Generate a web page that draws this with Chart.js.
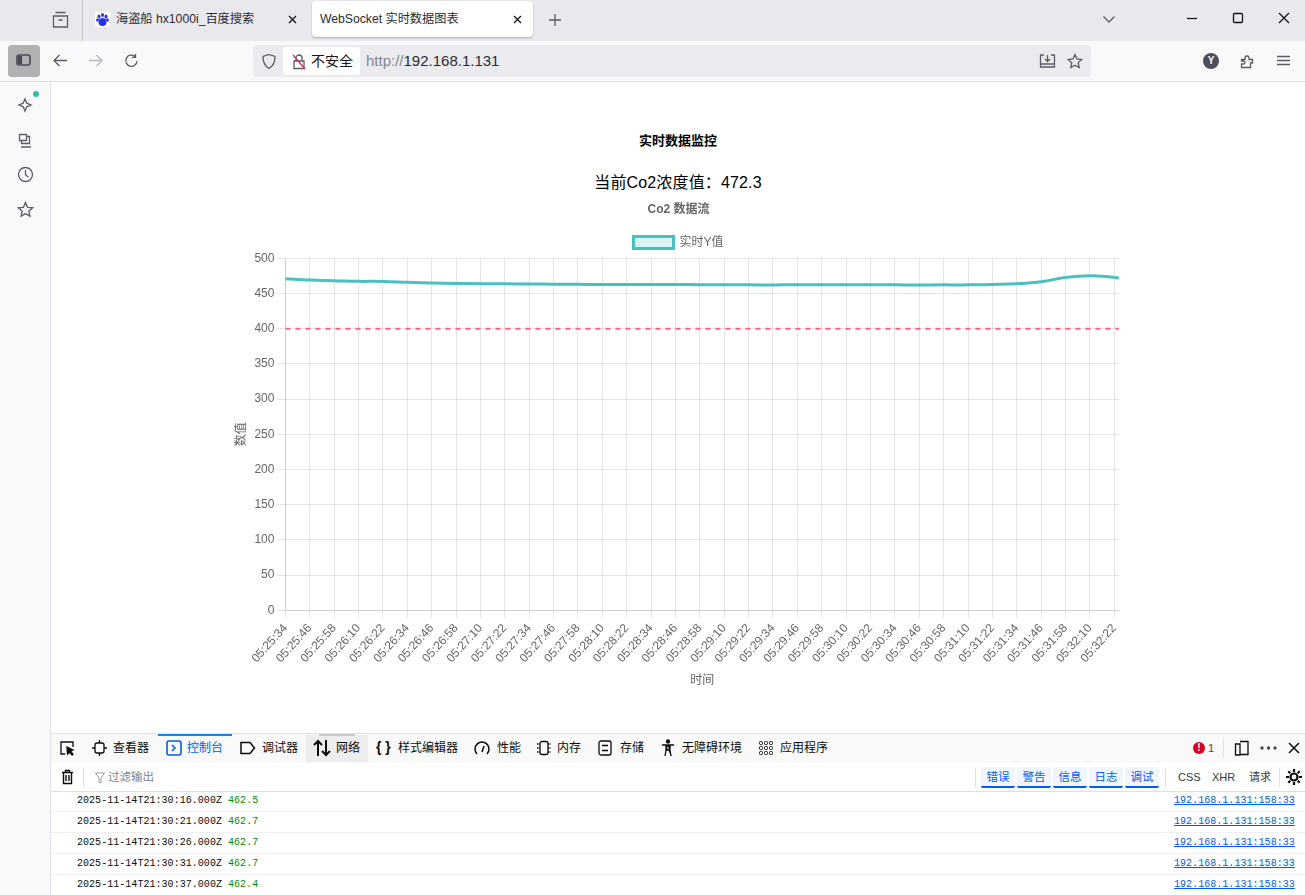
<!DOCTYPE html>
<html lang="zh"><head><meta charset="utf-8"><title>WebSocket 实时数据图表</title>
<script src="https://cdn.jsdelivr.net/npm/chart.js@4/dist/chart.umd.min.js"></script>
<style>
html,body{margin:0;padding:0;width:1305px;height:895px;overflow:hidden;background:#fff;font-family:"Liberation Sans","Noto Sans CJK SC",sans-serif;color:#15141a}
.a{position:absolute;white-space:nowrap}
svg.a{fill:none;stroke:#5b5b66;stroke-width:1.3}
.ui{font-size:12px;line-height:16px;color:#2b2a33}
.mono{font-family:"Liberation Mono",monospace;font-size:10px;line-height:14px;letter-spacing:.04px}
.row{position:absolute;left:51px;right:0;height:20px;border-bottom:1px solid #f0f0f4}
.flt{position:absolute;top:767px;height:19px;width:34px;background:#f0f6fe;border-bottom:2px solid #0060df;border-radius:2px;color:#0060df;font-size:11.5px;line-height:20px;text-align:center}
</style></head><body>
<!-- tab strip -->
<div class="a" style="left:0;top:0;width:1305px;height:41px;background:#e9e9ed"></div>
<svg class="a" style="left:52px;top:11px" width="17" height="17" viewBox="0 0 17 17"><path d="M3.500 1.500h10M1.500 5h14v11h-14zM6.500 9h4"/></svg>
<div class="a" style="left:82px;top:0;width:1px;height:41px;background:#c8c8ce"></div>
<svg class="a" style="left:95px;top:12px;stroke:none" width="15" height="15"><rect width="15" height="15" fill="#fff"/><g fill="#2932e1"><ellipse cx="4" cy="4.500" rx="1.500" ry="2"/><ellipse cx="7.500" cy="3" rx="1.500" ry="2"/><ellipse cx="11" cy="4.500" rx="1.500" ry="2"/><ellipse cx="2.500" cy="8" rx="1.400" ry="1.800"/><ellipse cx="12.500" cy="8" rx="1.400" ry="1.800"/><ellipse cx="7.500" cy="10" rx="4" ry="4"/></g></svg>
<div class="a ui" style="left:116px;top:11px;font-size:12.2px">海盗船 hx1000i_百度搜索</div>
<svg class="a" style="left:288px;top:15px;stroke:#15141a" width="9" height="9"><path d="M1 1l7 7M8 1l-7 7"/></svg>
<div class="a" style="left:312px;top:1px;width:221px;height:36px;background:#fff;border-radius:4px;box-shadow:0 1px 2px rgba(0,0,0,.25)"></div>
<div class="a ui" style="left:320px;top:11px;font-size:12.2px">WebSocket 实时数据图表</div>
<svg class="a" style="left:513px;top:15px;stroke:#15141a" width="9" height="9"><path d="M1 1l7 7M8 1l-7 7"/></svg>
<svg class="a" style="left:548px;top:13px" width="14" height="14"><path d="M7 1v12M1 7h12"/></svg>
<svg class="a" style="left:1102px;top:15px" width="14" height="9"><path d="M1.500 1.500l5.500 5.500 5.500-5.500"/></svg>
<svg class="a" style="left:1186px;top:17px;stroke:#15141a" width="12" height="3"><path d="M1 1.500h10"/></svg>
<svg class="a" style="left:1232px;top:12px;stroke:#15141a" width="12" height="12"><rect x="1.500" y="1.500" width="9" height="9" rx="1"/></svg>
<svg class="a" style="left:1278px;top:12px;stroke:#15141a" width="12" height="12"><path d="M1 1l10 10M11 1l-10 10"/></svg>
<!-- toolbar -->
<div class="a" style="left:0;top:41px;width:1305px;height:40px;background:#f9f9fb"></div>
<div class="a" style="left:8px;top:45px;width:32px;height:32px;background:#b1b1b3;border-radius:4px"></div>
<svg class="a" style="left:16px;top:54px;stroke:#4a4a55;stroke-width:1.600" width="16" height="13"><rect x="1" y="1" width="13" height="10" rx="2"/><rect x="2" y="2" width="4" height="8" fill="#4a4a55" stroke="none"/></svg>
<svg class="a" style="left:52px;top:53px" width="16" height="15"><path d="M15 7.500H2M7.500 2L2 7.500 7.500 13"/></svg>
<svg class="a" style="left:88px;top:53px;stroke:#b9b9bf" width="16" height="15"><path d="M1 7.500h13M8.500 2L14 7.500 8.500 13"/></svg>
<svg class="a" style="left:124px;top:53px" width="16" height="15"><path d="M13 8a5.600 5.600 0 1 1-2-4.600M11.500 1v3.400H8"/></svg>
<div class="a" style="left:253px;top:45px;width:838px;height:32px;background:#ebebef;border-radius:4px"></div>
<svg class="a" style="left:261px;top:53px" width="16" height="17"><path d="M8 1.500l6 2c0 6-1.500 9.500-6 12-4.500-2.500-6-6-6-12z"/></svg>
<div class="a" style="left:283px;top:47px;width:77px;height:28px;background:#fff;border-radius:3px"></div>
<svg class="a" style="left:291px;top:53px" width="16" height="17"><path d="M3 8h10v7.500H3zM5 8V5a3 3 0 0 1 6 0v3"/><path d="M2 2l12 14" stroke="#e22850"/></svg>
<div class="a ui" style="left:311px;top:52px;font-size:14px;line-height:18px;color:#15141a">不安全</div>
<div class="a" style="left:366px;top:52px;font-size:15px;line-height:18px;color:#85858d">http://<span style="color:#2b2a33">192.168.1.131</span></div>
<svg class="a" style="left:1039px;top:53px" width="17" height="16"><path d="M5 2H1.500v12h14V2H12M1.500 11h14M8.500 2v6M6 6l2.500 2.500L11 6"/></svg>
<svg class="a" style="left:1067px;top:53px" width="16" height="16"><path d="M8 1.500l2 4.500 4.800.5-3.600 3.200 1 4.800L8 12.200 3.800 14.500l1-4.800L1.200 6.500 6 6z"/></svg>
<div class="a" style="left:1203px;top:53px;width:16px;height:16px;background:#4f4f5a;border-radius:50%;color:#fff;font-size:10px;font-weight:bold;line-height:16px;text-align:center">Y</div>
<svg class="a" style="left:1240px;top:53px" width="15" height="16"><path d="M1.500 6.500h3.500v-1.500a2 2 0 0 1 4 0v1.500h3.500v3.500h-2v4.500h-9v-3.500h2a1.500 1.500 0 0 0 0-3h-2z"/></svg>
<svg class="a" style="left:1277px;top:55px" width="13" height="12"><path d="M0 1.500h13M0 5.500h13M0 9.500h13"/></svg>
<div class="a" style="left:0;top:81px;width:1305px;height:1px;background:#e0e0e6"></div>
<!-- sidebar -->
<div class="a" style="left:0;top:82px;width:50px;height:813px;background:#f9f9fb"></div>
<div class="a" style="left:50px;top:82px;width:1px;height:813px;background:#e0e0e6"></div>
<svg class="a" style="left:16px;top:95px" width="18" height="18"><path d="M9 4l1.800 4.200L15 10l-4.200 1.800L9 16l-1.800-4.200L3 10l4.200-1.800z"/></svg>
<div class="a" style="left:33px;top:91px;width:6px;height:6px;background:#2ac3a2;border-radius:50%"></div>
<svg class="a" style="left:18px;top:133px" width="16" height="16"><path d="M1.500 1.500h7v6h-7zM3.500 7.500v3h8V3.500h-3M3 14h10"/></svg>
<svg class="a" style="left:17px;top:166px" width="17" height="17"><circle cx="8.500" cy="8.500" r="7"/><path d="M8.500 4v5l3 2"/></svg>
<svg class="a" style="left:17px;top:201px" width="17" height="17"><path d="M8.500 1.500l2.100 4.800 5 .5-3.800 3.400 1.100 5-4.400-2.600-4.400 2.600 1.100-5L1.400 6.800l5-.5z"/></svg>
<!-- page -->
<div class="a" style="left:51px;width:1254px;top:132px;text-align:center;font-size:13px;line-height:17px;font-weight:bold;color:#000">实时数据监控</div>
<div class="a" style="left:51px;width:1254px;top:173px;text-align:center;font-size:16px;line-height:20px;color:#000;letter-spacing:.15px">当前Co2浓度值：472.3</div>
<div class="a" style="left:229px;top:192px;width:899px;height:500px"><canvas id="chart"></canvas></div>
<!-- devtools -->
<div class="a" style="left:51px;top:733px;width:1254px;height:29px;background:#f9f9fa;border-top:1px solid #e0e0e2;border-bottom:1px solid #e0e0e2"></div>
<svg class="a" style="left:59px;top:740px;stroke:#0c0c0d" width="17" height="17"><path d="M6 14H2V2h12v5"/><path d="M8 7l6 3-2.500 1L14 14.500 13 15l-2.500-3-2 2z" fill="#0c0c0d"/></svg>
<svg class="a" style="left:92px;top:740px;stroke:#0c0c0d" width="15" height="16"><rect x="3" y="3" width="9" height="10" rx="2"/><path d="M7.500 0v3M7.500 13v3M0 8h3M12 8h3"/></svg>
<div class="a ui" style="left:113px;top:740px;color:#0c0c0d">查看器</div>
<div class="a" style="left:158px;top:734px;width:74px;height:2px;background:#0a84ff"></div>
<svg class="a" style="left:166px;top:740px;stroke:#0060df;stroke-width:1.600" width="16" height="16"><rect x="1" y="1" width="14" height="14" rx="2"/><path d="M6 5l3 3-3 3"/></svg>
<div class="a ui" style="left:187px;top:740px;color:#0060df">控制台</div>
<svg class="a" style="left:240px;top:741px;stroke:#0c0c0d;stroke-width:1.500" width="16" height="14"><path d="M1 1.500h9l4.500 5.500-4.500 5.500H1z"/></svg>
<div class="a ui" style="left:262px;top:740px;color:#0c0c0d">调试器</div>
<div class="a" style="left:306px;top:735px;width:62px;height:27px;background:#ededf0"></div>
<div class="a" style="left:319px;top:734px;width:36px;height:2px;background:#c8c8cc"></div>
<svg class="a" style="left:313px;top:739px;stroke:#0c0c0d;stroke-width:2" width="18" height="18"><path d="M5 17V2M1 6l4-4 4 4M13 1v15M9 12l4 4 4-4"/></svg>
<div class="a ui" style="left:336px;top:740px;color:#0c0c0d">网络</div>
<div class="a ui" style="left:376px;top:739px;font-size:14px;font-weight:bold;color:#0c0c0d">{ }</div>
<div class="a ui" style="left:398px;top:740px;color:#0c0c0d">样式编辑器</div>
<svg class="a" style="left:474px;top:740px;stroke:#0c0c0d;stroke-width:1.500" width="16" height="15"><path d="M3 14A7 7 0 1 1 13 14M8 12l2-6"/></svg>
<div class="a ui" style="left:497px;top:740px;color:#0c0c0d">性能</div>
<svg class="a" style="left:536px;top:740px;stroke:#0c0c0d" width="16" height="16"><rect x="4" y="1.500" width="8" height="13" rx="2"/><path d="M1 4h3M1 8h3M1 12h3M12 4h3M12 8h3M12 12h3" stroke-dasharray="1.500 1"/></svg>
<div class="a ui" style="left:557px;top:740px;color:#0c0c0d">内存</div>
<svg class="a" style="left:598px;top:740px;stroke:#0c0c0d" width="14" height="16"><rect x="1" y="1" width="12" height="14" rx="2"/><path d="M4 5.500h6M4 10.500h6"/></svg>
<div class="a ui" style="left:620px;top:740px;color:#0c0c0d">存储</div>
<svg class="a" style="left:661px;top:739px;stroke:#0c0c0d;fill:#0c0c0d" width="14" height="18"><circle cx="7" cy="2.500" r="1.500"/><path d="M1 6h12M5 6h4v5l1 6M5 11l-1 6M5 6v5h4"/></svg>
<div class="a ui" style="left:682px;top:740px;color:#0c0c0d">无障碍环境</div>
<svg class="a" style="left:759px;top:741px;stroke:#0c0c0d;stroke-width:1" width="15" height="15"><g><rect x=".500" y=".500" width="3" height="3" rx="1"/><rect x="5.500" y=".500" width="3" height="3" rx="1"/><rect x="10.500" y=".500" width="3" height="3" rx="1"/><rect x=".500" y="5.500" width="3" height="3" rx="1"/><rect x="5.500" y="5.500" width="3" height="3" rx="1"/><rect x="10.500" y="5.500" width="3" height="3" rx="1"/><rect x=".500" y="10.500" width="3" height="3" rx="1"/><rect x="5.500" y="10.500" width="3" height="3" rx="1"/><rect x="10.500" y="10.500" width="3" height="3" rx="1"/></g></svg>
<div class="a ui" style="left:780px;top:740px;color:#0c0c0d">应用程序</div>
<div class="a" style="left:1193px;top:742px;width:12px;height:12px;background:#d70022;border-radius:50%;color:#fff;font-size:10px;font-weight:bold;line-height:12px;text-align:center">!</div>
<div class="a ui" style="left:1208px;top:740px;font-size:11px;color:#4a4a4f">1</div>
<div class="a" style="left:1223px;top:738px;width:1px;height:19px;background:#e0e0e2"></div>
<svg class="a" style="left:1234px;top:740px;stroke:#0c0c0d" width="16" height="16"><path d="M6 4H1.500v11H6zM6 1.500h8v13H6"/></svg>
<svg class="a" style="left:1260px;top:746px;stroke:none;fill:#4a4a4f" width="17" height="4"><circle cx="2" cy="2" r="1.700"/><circle cx="8.500" cy="2" r="1.700"/><circle cx="15" cy="2" r="1.700"/></svg>
<svg class="a" style="left:1288px;top:742px;stroke:#0c0c0d;stroke-width:1.500" width="12" height="12"><path d="M1 1l10 10M11 1L1 11"/></svg>
<!-- filter bar -->
<div class="a" style="left:51px;top:763px;width:1254px;height:28px;background:#fff;border-bottom:1px solid #e0e0e2"></div>
<svg class="a" style="left:61px;top:769px;stroke:#0c0c0d;stroke-width:1.400" width="13" height="16"><path d="M1 3.500h11M4.500 3.500V1.500h4v2M2.500 3.500v11h8v-11M5 6v6M8 6v6"/></svg>
<div class="a" style="left:83px;top:768px;width:1px;height:19px;background:#e0e0e2"></div>
<svg class="a" style="left:95px;top:772px;stroke:#9a9a9e;stroke-width:1" width="10" height="12"><path d="M.500 1h9L6 6v5l-2-1V6z"/></svg>
<div class="a ui" style="left:108px;top:769px;font-size:11.500px;color:#85858d">过滤输出</div>
<div class="a" style="left:975px;top:768px;width:1px;height:19px;background:#e0e0e2"></div>
<div class="flt a" style="left:981px">错误</div><div class="flt a" style="left:1017px">警告</div><div class="flt a" style="left:1053px">信息</div><div class="flt a" style="left:1089px">日志</div><div class="flt a" style="left:1125px">调试</div>
<div class="a" style="left:1165px;top:768px;width:1px;height:19px;background:#e0e0e2"></div>
<div class="a ui" style="left:1178px;top:769px;font-size:11px;color:#38383d">CSS</div>
<div class="a ui" style="left:1212px;top:769px;font-size:11px;color:#38383d">XHR</div>
<div class="a ui" style="left:1249px;top:769px;font-size:11px;color:#38383d">请求</div>
<div class="a" style="left:1279px;top:768px;width:1px;height:19px;background:#e0e0e2"></div>
<svg class="a" style="left:1286px;top:769px;stroke:#0c0c0d;stroke-width:2.200" width="16" height="16"><circle cx="8" cy="8" r="3.500"/><path d="M8 0v3M8 13v3M0 8h3M13 8h3M2.300 2.300l2 2M11.700 11.700l2 2M2.300 13.700l2-2M11.700 4.300l2-2"/></svg>
<!-- console rows -->
<div id="rows"></div>
<script>
// Tick labels along the time axis (HH:MM:SS)
const timeLabels = ["05:25:34","05:25:46","05:25:58","05:26:10","05:26:22","05:26:34","05:26:46","05:26:58","05:27:10","05:27:22","05:27:34","05:27:46","05:27:58","05:28:10","05:28:22","05:28:34","05:28:46","05:28:58","05:29:10","05:29:22","05:29:34","05:29:46","05:29:58","05:30:10","05:30:22","05:30:34","05:30:46","05:30:58","05:31:10","05:31:22","05:31:34","05:31:46","05:31:58","05:32:10","05:32:22"];
// CO2 readings at each tick
const co2Values = [471.2,469.3,468.4,467.4,467.3,466,465,464.5,464,463.8,463.6,463.4,463.2,463,463,462.9,462.9,462.7,462.6,462.5,462.3,462.5,462.4,462.5,462.7,462.5,462.3,462.4,462.4,463,464,466.8,473,475.5,473];
const co2Last = 472.3;          // newest sample, just after the last tick
const axisEnd = 34.19;          // the newest sample sits a fraction of a tick after the last label
const refValue = 400;           // dashed reference line
const yTicksMax = 500, yTickStep = 50;
const consoleTimes = ["2025-11-14T21:30:16.000Z","2025-11-14T21:30:21.000Z","2025-11-14T21:30:26.000Z","2025-11-14T21:30:31.000Z","2025-11-14T21:30:37.000Z"];
const consoleValues = ["462.5","462.7","462.7","462.7","462.4"];
const consoleSource = "192.168.1.131:158:33";

document.getElementById('rows').innerHTML = consoleTimes.map((t,i)=>{
  const top = 791 + i*21;
  return `<div class="row" style="top:${top}px"></div>`+
    `<div class="a mono" style="left:77px;top:${top+3}px;color:#0c0c0d">${t} <span style="color:#058b00">${consoleValues[i]}</span></div>`+
    `<div class="a mono" style="left:1174px;top:${top+3}px;color:#0060df;text-decoration:underline">${consoleSource}</div>`;
}).join('');

const FONT = '"Liberation Sans","Noto Sans CJK SC",sans-serif';
Chart.defaults.font.family = FONT;
Chart.defaults.font.size = 12;
Chart.defaults.color = '#666';
Chart.defaults.animation = false;

const linePoints = co2Values.map((y,x)=>({x,y})).concat([{x:axisEnd,y:co2Last}]);
new Chart(document.getElementById('chart'),{
  type:'line',
  data:{datasets:[
    {label:'实时Y值',data:linePoints,borderColor:'rgb(75,192,192)',backgroundColor:'rgba(75,192,192,0.2)',borderWidth:3,pointRadius:0,tension:0.4,fill:false},
    {label:'基准线',data:[{x:0,y:refValue},{x:axisEnd,y:refValue}],borderColor:'rgb(255,99,132)',borderWidth:2,borderDash:[5,5],pointRadius:0,fill:false}
  ]},
  options:{
    responsive:true,maintainAspectRatio:false,
    plugins:{
      title:{display:true,text:'Co2 数据流',font:{size:12,weight:'bold'},color:'#666'},
      legend:{labels:{filter:i=>i.datasetIndex===0}}
    },
    scales:{
      x:{type:'linear',min:0,max:axisEnd,
        title:{display:true,text:'时间',padding:{top:5,bottom:4}},
        ticks:{stepSize:1,includeBounds:false,autoSkip:false,minRotation:48,maxRotation:48,callback:v=>timeLabels[v]}},
      y:{min:0,max:yTicksMax,
        title:{display:true,text:'数值',padding:{top:5,bottom:3}},
        ticks:{stepSize:yTickStep}}
    }
  }
});
</script>
</body></html>
